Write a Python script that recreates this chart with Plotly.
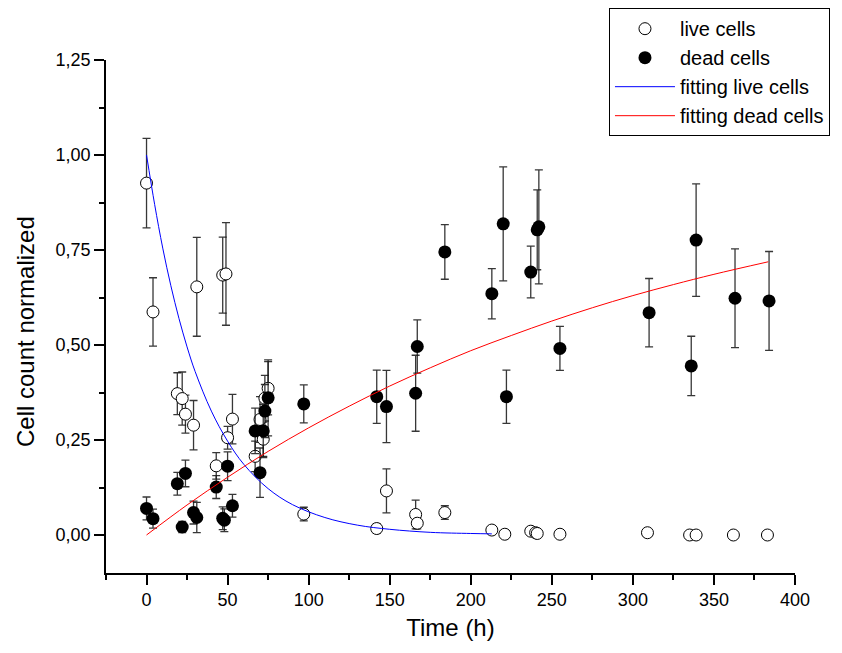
import plotly.graph_objects as go

# ---- data ----
live_x = [0, 4, 31, 47, 49, 19, 22, 24, 29, 43, 50, 53, 67, 72, 70, 75, 73,
          97, 142, 148, 166, 167, 184, 213, 221, 237, 240, 241, 255, 309, 335, 339, 362, 383]
live_y = [0.926, 0.587, 0.653, 0.684, 0.687, 0.372, 0.359, 0.318, 0.289, 0.182, 0.256, 0.305, 0.207, 0.252, 0.304, 0.386, 0.36,
          0.055, 0.017, 0.116, 0.054, 0.031, 0.059, 0.013, 0.002, 0.010, 0.006, 0.004, 0.002, 0.006, 0.0, 0.0, 0.0, 0.0]
live_err = [0.118, 0.09, 0.13, 0.1, 0.135, 0.055, 0.07, 0.05, 0.065, 0.035, 0.03, 0.065, 0.04, 0.045, 0.06, 0.07, 0.06,
            0.018, 0.012, 0.058, 0.038, 0.015, 0.018, 0.01, 0.01, 0.01, 0.01, 0.01, 0.008, 0.01, 0.0, 0.0, 0.0, 0.0]

dead_x = [0, 4, 19, 24, 22, 29, 31, 43, 47, 48, 50, 53, 67, 70, 72, 73, 75,
          97, 142, 148, 166, 167, 184, 213, 220, 222, 237, 241, 242, 255, 310, 336, 339, 363, 384]
dead_y = [0.07, 0.043, 0.135, 0.162, 0.021, 0.059, 0.046, 0.126, 0.044, 0.039, 0.181, 0.077, 0.274, 0.164, 0.274, 0.326, 0.361,
          0.345, 0.364, 0.338, 0.373, 0.496, 0.745, 0.635, 0.819, 0.364, 0.692, 0.803, 0.811, 0.491, 0.585, 0.445, 0.776, 0.623, 0.616]
dead_err = [0.03, 0.025, 0.03, 0.035, 0.015, 0.03, 0.04, 0.03, 0.03, 0.03, 0.038, 0.03, 0.06, 0.065, 0.07, 0.07, 0.1,
            0.05, 0.07, 0.095, 0.1, 0.07, 0.072, 0.066, 0.15, 0.07, 0.068, 0.105, 0.15, 0.058, 0.09, 0.078, 0.148, 0.13, 0.13]

fit_live_x = [0, 5, 10, 15, 20, 25, 30, 40, 50, 60, 75, 90, 110, 130, 150, 175, 200, 213]
fit_live_y = [1.0, 0.87, 0.755, 0.656, 0.57, 0.495, 0.43, 0.326, 0.247, 0.186, 0.122, 0.08, 0.046, 0.026, 0.015, 0.007, 0.004, 0.003]

fit_dead_x = [0, 25, 50, 75, 100, 125, 150, 175, 200, 225, 250, 275, 300, 325, 350, 383.5]
fit_dead_y = [0.0, 0.079, 0.152, 0.22, 0.282, 0.339, 0.392, 0.44, 0.485, 0.525, 0.563, 0.598, 0.63, 0.659, 0.686, 0.719]

x_ticks = [0, 50, 100, 150, 200, 250, 300, 350, 400]
y_ticks = [0.0, 0.25, 0.5, 0.75, 1.0, 1.25]

FONT = "Arial, Liberation Sans, sans-serif"
ERR_COLOR = "rgba(20,20,20,0.85)"

fig = go.Figure()
fig.add_trace(go.Scatter(
    x=live_x, y=live_y, mode="markers", name="live cells",
    marker=dict(symbol="circle", size=12, color="white", line=dict(color="black", width=1)),
    error_y=dict(type="data", array=live_err, visible=True, color=ERR_COLOR, thickness=1.3, width=4),
))
fig.add_trace(go.Scatter(
    x=dead_x, y=dead_y, mode="markers", name="dead cells",
    marker=dict(symbol="circle", size=13, color="black", line=dict(color="black", width=0)),
    error_y=dict(type="data", array=dead_err, visible=True, color=ERR_COLOR, thickness=1.3, width=4),
))
fig.add_trace(go.Scatter(
    x=fit_live_x, y=fit_live_y, mode="lines", name="fitting live cells",
    line=dict(color="#0000ff", width=1, shape="spline"),
))
fig.add_trace(go.Scatter(
    x=fit_dead_x, y=fit_dead_y, mode="lines", name="fitting dead cells",
    line=dict(color="#ff0000", width=1, shape="spline"),
))

fig.update_layout(
    width=842, height=653,
    paper_bgcolor="white", plot_bgcolor="white",
    margin=dict(l=106, r=47, t=60, b=80, autoexpand=False),
    separators=",.",
    font=dict(family=FONT, color="black"),
    legend=dict(
        x=0.730, y=1.101, xanchor="left", yanchor="top",
        bordercolor="black", borderwidth=1, bgcolor="white",
        font=dict(size=20, family=FONT), itemwidth=60,
    ),
    showlegend=True,
    annotations=[dict(
        text="Cell count normalized", textangle=-90,
        xref="paper", yref="paper", x=-0.1176, y=0.4717,
        xanchor="center", yanchor="middle", showarrow=False,
        font=dict(size=24, family=FONT, color="black"),
    )],
)
fig.update_xaxes(
    range=[-25, 400], tickvals=x_ticks, ticktext=[str(v) for v in x_ticks],
    showline=True, linecolor="black", linewidth=1.5, mirror=False,
    ticks="outside", ticklen=10, tickwidth=1.5, tickcolor="black",
    minor=dict(ticks="outside", ticklen=5, tickwidth=1.5, tickcolor="black", dtick=25, tick0=0),
    showgrid=False, zeroline=False,
    tickfont=dict(size=18, family=FONT),
    title=dict(text="Time (h)", font=dict(size=24, family=FONT), standoff=10),
)
fig.update_yaxes(
    range=[-0.1, 1.25], tickvals=y_ticks, tickformat=".2f",
    showline=True, linecolor="black", linewidth=1.5, mirror=False,
    ticks="outside", ticklen=10, tickwidth=1.5, tickcolor="black",
    minor=dict(ticks="outside", ticklen=5, tickwidth=1.5, tickcolor="black", dtick=0.125, tick0=0),
    showgrid=False, zeroline=False,
    tickfont=dict(size=18, family=FONT),
)

fig.write_html("out.html")
